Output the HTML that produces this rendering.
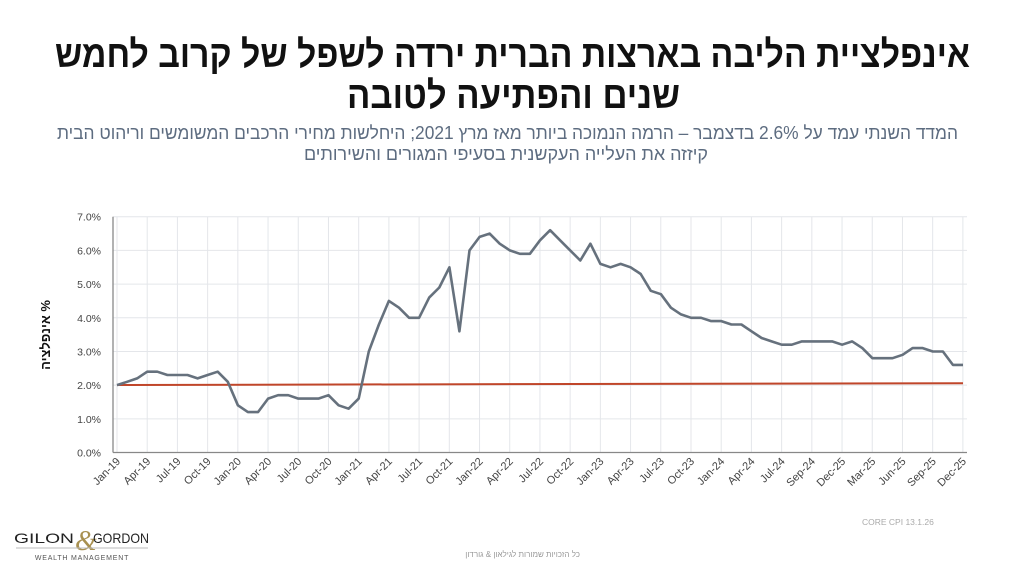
<!DOCTYPE html>
<html><head><meta charset="utf-8"><style>
body{margin:0;background:#fff;width:1024px;height:576px;overflow:hidden}
</style></head><body>
<svg width="1024" height="576" xmlns="http://www.w3.org/2000/svg" font-family="Liberation Sans, 'Noto Sans CJK JP', DejaVu Sans, sans-serif">
<g direction="rtl">
<text x="970" y="67" font-size="38" font-weight="bold" fill="#111" textLength="915" lengthAdjust="spacingAndGlyphs" text-anchor="start">אינפלציית הליבה בארצות הברית ירדה לשפל של קרוב לחמש</text>
<text x="680" y="108" font-size="38" font-weight="bold" fill="#111" textLength="333" lengthAdjust="spacingAndGlyphs" text-anchor="start">שנים והפתיעה לטובה</text>
<text x="958" y="139" font-size="18" fill="#5d6c80" textLength="901" lengthAdjust="spacingAndGlyphs" text-anchor="start">המדד השנתי עמד על 2.6% בדצמבר – הרמה הנמוכה ביותר מאז מרץ 2021; היחלשות מחירי הרכבים המשומשים וריהוט הבית</text>
<text x="708" y="160" font-size="18" fill="#5d6c80" textLength="404" lengthAdjust="spacingAndGlyphs" text-anchor="start">קיזזה את העלייה העקשנית בסעיפי המגורים והשירותים</text>
</g>
<g id="grid" stroke="#e4e6ea" stroke-width="1"></g>
<line x1="113" y1="216.7" x2="113" y2="452.5" stroke="#888" stroke-width="1.3"/>
<line x1="113" y1="452.5" x2="967" y2="452.5" stroke="#888" stroke-width="1.3"/>
<g id="ylab" font-size="10.5" fill="#444" text-anchor="end"></g>
<g id="xlab" font-size="11" fill="#444" text-anchor="end"></g>
<line x1="117" y1="385" x2="963" y2="383.2" stroke="#c0462a" stroke-width="2"/>
<polyline id="ser" fill="none" stroke="#66717d" stroke-width="2.6" stroke-linejoin="round"/>
<text transform="translate(50,335) rotate(-90)" font-size="13" font-weight="bold" fill="#111" text-anchor="middle" direction="rtl">% אינפלציה</text>
<text x="862" y="525" font-size="8.5" fill="#aaa">CORE CPI  13.1.26</text>
<text x="580" y="557" font-size="8" fill="#999" direction="rtl">כל הזכויות שמורות לגילאון &amp; גורדון</text>
<text x="14" y="543" font-size="14" fill="#222" textLength="60" lengthAdjust="spacingAndGlyphs">GILON</text>
<text x="75" y="550" font-size="28" fill="#a89050" font-family="Liberation Serif, serif" font-style="italic">&amp;</text>
<text x="93" y="543" font-size="14" fill="#222" textLength="56" lengthAdjust="spacingAndGlyphs">GORDON</text>
<line x1="16" y1="548" x2="148" y2="548" stroke="#bbb"/>
<text x="82" y="560" font-size="7" fill="#555" text-anchor="middle" letter-spacing="0.8">WEALTH MANAGEMENT</text>
</svg>
<script>
const ns="http://www.w3.org/2000/svg";
function el(p,t,a,txt){const e=document.createElementNS(ns,t);for(const k in a)e.setAttribute(k,a[k]);if(txt)e.textContent=txt;document.getElementById(p).appendChild(e);}
const y0=452.5,py=33.68;
for(let i=0;i<=7;i++){const y=y0-i*py;if(i>0)el('grid','line',{x1:113,x2:967,y1:y,y2:y});el('ylab','text',{x:101,y:y+4},i.toFixed(1)+'%');}
const labs=[];const m=['Jan','Apr','Jul','Oct'];
for(let yr=19;yr<=24;yr++)for(const mm of m)labs.push(mm+'-'+yr);
labs.length=23;labs.push('Sep-24','Dec-25','Mar-25','Jun-25','Sep-25','Dec-25');
for(let i=0;i<29;i++){const x=117+i*30.21;el('grid','line',{x1:x,x2:x,y1:216.7,y2:452.5});
el('xlab','text',{transform:`translate(${x+4},${462}) rotate(-45)`},labs[i]);}
const d=[2.0,2.1,2.2,2.4,2.4,2.3,2.3,2.3,2.2,2.3,2.4,2.1,
1.4,1.2,1.2,1.6,1.7,1.7,1.6,1.6,1.6,1.7,1.4,1.3,
1.6,3.0,3.8,4.5,4.3,4.0,4.0,4.6,4.9,5.5,3.6,6.0,
6.4,6.5,6.2,6.0,5.9,5.9,6.3,6.6,6.3,6.0,5.7,6.2,
5.6,5.5,5.6,5.5,5.3,4.8,4.7,4.3,4.1,4.0,4.0,3.9,
3.9,3.8,3.8,3.6,3.4,3.3,3.2,3.2,3.3,3.3,3.3,3.3,
3.2,3.3,3.1,2.8,2.8,2.8,2.9,3.1,3.1,3.0,3.0,2.6,2.6];
const st=846/(d.length-1);
document.getElementById('ser').setAttribute('points',d.map((v,i)=>(117+i*st).toFixed(1)+','+(y0-v*py).toFixed(1)).join(' '));
</script>
</body></html>
